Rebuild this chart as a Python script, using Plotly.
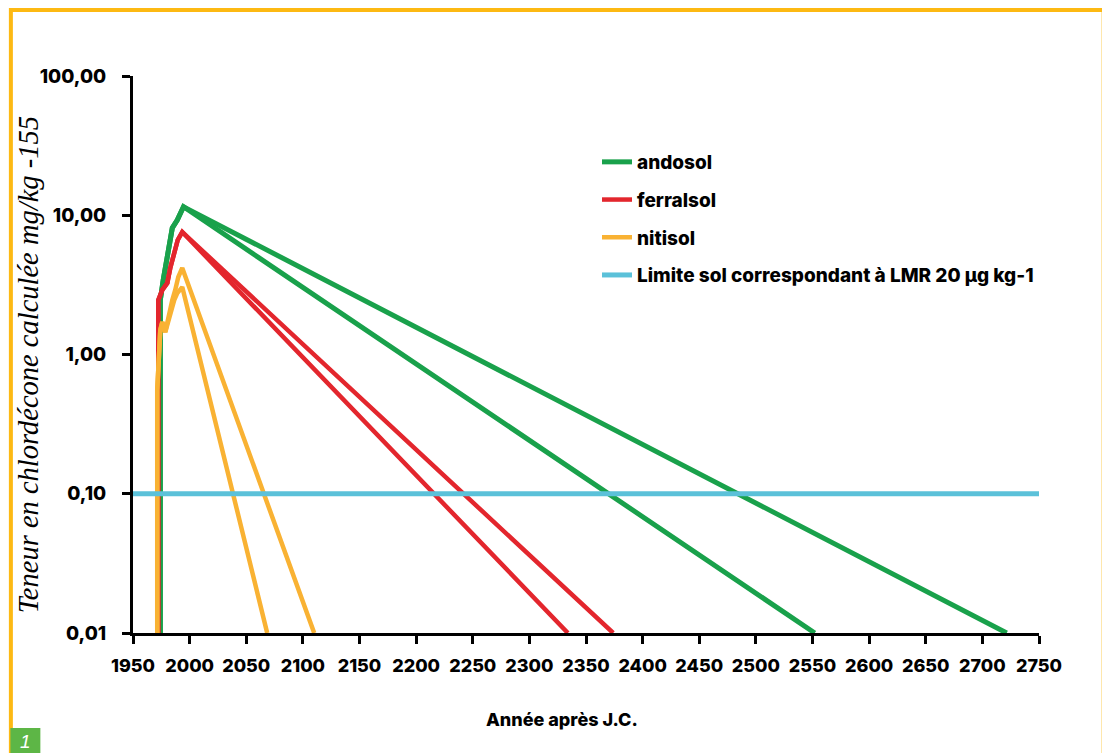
import plotly.graph_objects as go

# ---------------- data ----------------
x_ticks = [1950, 2000, 2050, 2100, 2150, 2200, 2250, 2300, 2350, 2400,
           2450, 2500, 2550, 2600, 2650, 2700, 2750]
x_tick_labels = [str(v) for v in x_ticks]
y_ticks = [0.01, 0.1, 1, 10, 100]
y_tick_labels = ["0,01", "0,10", "1,00", "10,00", "100,00"]

# andosol (two scenarios)
andosol_a_years = [1974.1, 1974.1, 1976.7, 1978.5, 1980.2, 1982.9, 1984.7, 1989.1, 1994.6, 2552.0]
andosol_a_vals = [0.01, 2.46, 3.43, 4.25, 5.36, 6.64, 8.10, 9.24, 11.5, 0.01]
andosol_b_years = [1974.1, 1974.1, 1976.7, 1978.5, 1980.2, 1982.9, 1984.7, 1989.1, 1994.6, 2721.5]
andosol_b_vals = [0.01, 2.46, 3.43, 4.25, 5.36, 6.64, 8.10, 9.24, 11.5, 0.01]

# ferralsol (two scenarios)
ferralsol_a_years = [1972.3, 1972.3, 1975.9, 1980.3, 1982.9, 1986.4, 1989.5, 1993.5, 2334.0]
ferralsol_a_vals = [0.01, 2.46, 2.91, 3.26, 4.18, 5.36, 6.64, 7.58, 0.01]
ferralsol_b_years = [1972.3, 1972.3, 1975.9, 1980.3, 1982.9, 1986.4, 1989.5, 1993.5, 2374.0]
ferralsol_b_vals = [0.01, 2.46, 2.91, 3.26, 4.18, 5.36, 6.64, 7.58, 0.01]

# nitisol (two scenarios)
nitisol_a_years = [1971.4, 1971.4, 1974.1, 1975.9, 1978.5, 1981.1, 1984.7, 1987.3, 1990.0, 1993.5, 2110.0]
nitisol_a_vals = [0.01, 0.556, 1.50, 1.71, 1.45, 1.86, 2.46, 2.91, 3.60, 4.18, 0.01]
nitisol_b_years = [1971.4, 1971.4, 1974.1, 1975.9, 1978.5, 1982.9, 1986.4, 1989.1, 1993.5, 2068.5]
nitisol_b_vals = [0.01, 0.556, 1.50, 1.71, 1.45, 1.99, 2.46, 2.76, 3.05, 0.01]

# soil limit corresponding to LMR 20 µg/kg
limit_years = [1950, 2750]
limit_vals = [0.1, 0.1]

# ---------------- layout helpers ----------------
# the page has an 8px body margin, so figure coords = screen coords - 8
OFF = 8
W, H = 1110 - OFF, 753 - OFF
L, R, T, B = 132.7 - OFF, 1039.3 - OFF, 76 - OFF, 633 - OFF


def px(x):
    return (x - OFF - L) / (R - L)


def py(y):
    return (B - (y - OFF)) / (B - T)


GREEN = "#19A14B"
RED = "#E3262D"
YELLOW = "#F9B233"
CYAN = "#5BC1D9"
ORANGE = "#FDB913"
BOLD_FAMILY = "Inter, Lato, DejaVu Sans"

fig = go.Figure()

series = [
    ("andosol", GREEN, 5, andosol_a_years, andosol_a_vals, andosol_b_years, andosol_b_vals),
    ("ferralsol", RED, 4.5, ferralsol_a_years, ferralsol_a_vals, ferralsol_b_years, ferralsol_b_vals),
    ("nitisol", YELLOW, 4.5, nitisol_a_years, nitisol_a_vals, nitisol_b_years, nitisol_b_vals),
]
for name, col, w, xa, ya, xb, yb in series:
    fig.add_trace(go.Scatter(x=xa, y=ya, mode="lines", name=name, legendgroup=name,
                             line=dict(color=col, width=w)))
    fig.add_trace(go.Scatter(x=xb, y=yb, mode="lines", name=name, legendgroup=name,
                             showlegend=False, line=dict(color=col, width=w)))

fig.add_trace(go.Scatter(x=limit_years, y=limit_vals, mode="lines",
                         name="Limite sol correspondant à LMR 20 µg kg-1",
                         legendgroup="limit", line=dict(color=CYAN, width=5)))

fig.update_layout(
    width=W, height=H,
    margin=dict(l=L, r=W - R, t=T, b=H - B),
    paper_bgcolor="white", plot_bgcolor="white",
    showlegend=True,
    legend=dict(x=px(597), y=py(143), xanchor="left", yanchor="top",
                traceorder="grouped", tracegroupgap=10,
                font=dict(family=BOLD_FAMILY, size=19, color="black", weight=800),
                bgcolor="rgba(0,0,0,0)", itemwidth=30),
    xaxis=dict(range=[1950, 2750], tickmode="array", tickvals=x_ticks, ticktext=x_tick_labels,
               showgrid=False, zeroline=False, showline=True, linecolor="black", linewidth=3,
               ticks="outside", ticklen=8, tickwidth=3, tickcolor="black", ticklabelstandoff=6,
               tickfont=dict(family=BOLD_FAMILY, size=18, color="black", weight=800)),
    yaxis=dict(type="log", range=[-2, 2], tickmode="array", tickvals=y_ticks, ticktext=y_tick_labels,
               showgrid=False, zeroline=False, showline=True, linecolor="black", linewidth=3,
               ticks="outside", ticklen=8, tickwidth=3, tickcolor="black", ticklabelstandoff=12,
               tickfont=dict(family=BOLD_FAMILY, size=19, color="black", weight=800)),
)

# y-axis title (italic serif)
fig.add_annotation(text="Teneur en chlordécone calculée mg/kg -155", xref="paper", yref="paper",
                   x=px(29), y=py(365), xanchor="center", yanchor="middle",
                   textangle=-90, showarrow=False,
                   font=dict(family="Liberation Serif, DejaVu Serif", size=28.5, color="black", style="italic"))
# x-axis title
fig.add_annotation(text="Année après J.C.", xref="paper", yref="paper",
                   x=px(562), y=py(719), xanchor="center", yanchor="middle", showarrow=False,
                   font=dict(family=BOLD_FAMILY, size=18, color="black", weight=800))

# orange frame
fig.add_shape(type="rect", xref="paper", yref="paper",
              x0=px(10.5), x1=px(1104), y0=py(770), y1=py(10),
              line=dict(color=ORANGE, width=4), fillcolor="rgba(0,0,0,0)", layer="below")
# green figure number box
fig.add_shape(type="rect", xref="paper", yref="paper",
              x0=px(10), x1=px(40), y0=py(753), y1=py(728),
              line=dict(width=0), fillcolor="#5DB646")
fig.add_annotation(text="1", xref="paper", yref="paper", x=px(25), y=py(741),
                   xanchor="center", yanchor="middle", showarrow=False,
                   font=dict(family="Liberation Sans, Arial", size=19, color="white", style="italic"))

fig.write_html("out.html")
